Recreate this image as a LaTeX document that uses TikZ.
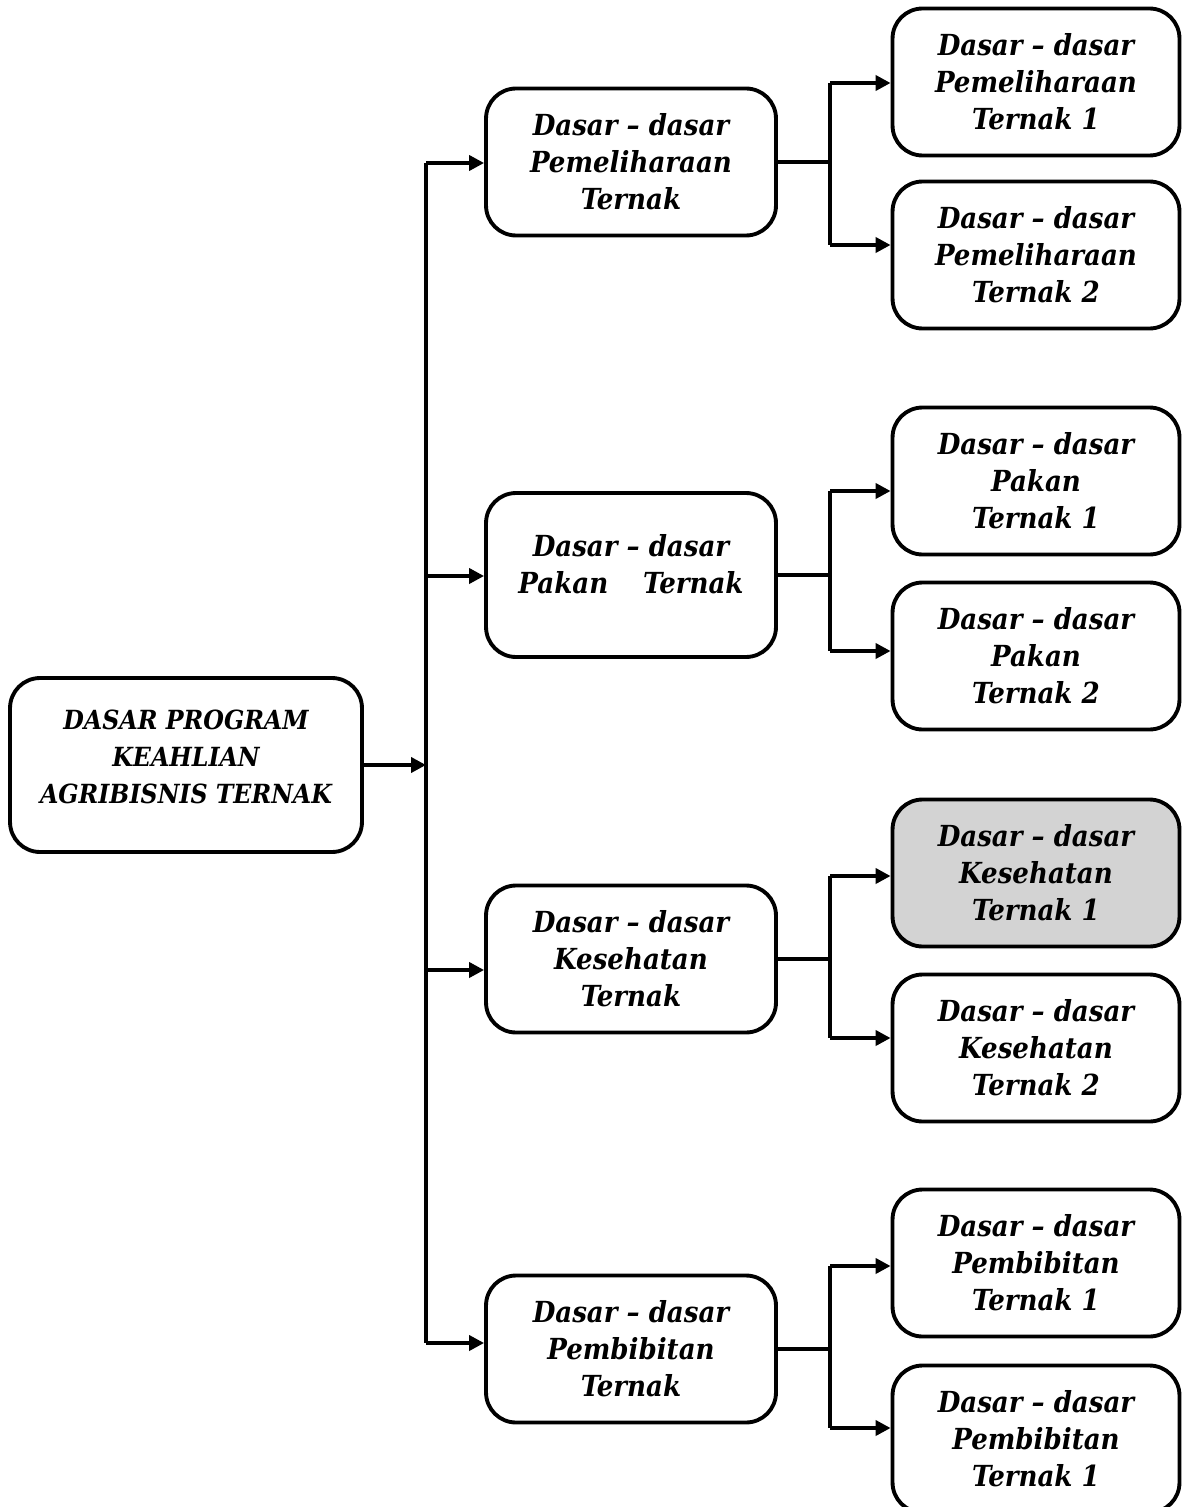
\documentclass[tikz,border=0pt]{standalone}
\usepackage{fontspec}
\newfontfamily\boxfont[Ligatures=TeX]{DejaVu Serif Condensed}
\usetikzlibrary{arrows.meta}
\definecolor{boxgray}{RGB}{211,211,211}

\begin{document}
\begin{tikzpicture}[x=0.02cm,y=-0.02cm,line width=2.1pt,
font=\boxfont\bfseries\itshape\fontsize{16.5}{21}\selectfont,
rbox/.style={draw,rectangle,rounded corners=0.6cm,align=center,inner sep=2pt,line width=2.2pt},
midbox/.style={rbox,minimum width=5.8cm,minimum height=2.94cm},
leafbox/.style={rbox,minimum width=5.74cm,minimum height=2.94cm},
arr/.style={-{Triangle[length=0.3cm,width=0.3cm]}}]
\useasboundingbox (0,0) rectangle (1183,1507);
% root
\draw (186,765) node[rbox,minimum width=7.04cm,minimum height=3.48cm,font=\boxfont\bfseries\itshape\fontsize{15}{21}\selectfont] (root) {DASAR PROGRAM\\KEAHLIAN\\AGRIBISNIS TERNAK\\[-0.4cm]\mbox{}};
% second level
\draw (631,162) node[midbox] (pem) {Dasar -- dasar\\Pemeliharaan\\Ternak};
\draw (631,575) node[midbox,minimum height=3.28cm] (pak) {Dasar -- dasar\\Pakan\hspace{0.7cm}Ternak\\[-0.3cm]\mbox{}};
\draw (631,959) node[midbox] (kes) {Dasar -- dasar\\Kesehatan\\Ternak};
\draw (631,1349) node[midbox] (bib) {Dasar -- dasar\\Pembibitan\\Ternak};
% third level
\draw (1036,82) node[leafbox] (pemA) {Dasar -- dasar\\Pemeliharaan\\Ternak 1};
\draw (1036,255) node[leafbox] (pemB) {Dasar -- dasar\\Pemeliharaan\\Ternak 2};
\draw (1036,481) node[leafbox] (pakA) {Dasar -- dasar\\Pakan\\Ternak 1};
\draw (1036,656) node[leafbox] (pakB) {Dasar -- dasar\\Pakan\\Ternak 2};
\draw (1036,873) node[leafbox,fill=boxgray] (kesA) {Dasar -- dasar\\Kesehatan\\Ternak 1};
\draw (1036,1048) node[leafbox] (kesB) {Dasar -- dasar\\Kesehatan\\Ternak 2};
\draw (1036,1263) node[leafbox] (bibA) {Dasar -- dasar\\Pembibitan\\Ternak 1};
\draw (1036,1439) node[leafbox] (bibB) {Dasar -- dasar\\Pembibitan\\Ternak 1};
% bus from root
\coordinate (busA) at (426,163);
\coordinate (busB) at (426,576);
\coordinate (busC) at (426,970);
\coordinate (busD) at (426,1343);
\draw[arr] (root.east) -- (root.east -| busA);
\draw (busA) -- (busD);
\draw[arr] (busA) -- (busA -| pem.west);
\draw[arr] (busB) -- (busB -| pak.west);
\draw[arr] (busC) -- (busC -| kes.west);
\draw[arr] (busD) -- (busD -| bib.west);
% branches to leaves
\coordinate (pemT) at (830,83);  \coordinate (pemU) at (830,245);
\coordinate (pakT) at (830,491); \coordinate (pakU) at (830,651);
\coordinate (kesT) at (830,876); \coordinate (kesU) at (830,1038);
\coordinate (bibT) at (830,1266); \coordinate (bibU) at (830,1428);
\draw (pem.east) -- (pem.east -| pemT);
\draw (pak.east) -- (pak.east -| pakT);
\draw (kes.east) -- (kes.east -| kesT);
\draw (bib.east) -- (bib.east -| bibT);
\draw (pemT) -- (pemU);
\draw (pakT) -- (pakU);
\draw (kesT) -- (kesU);
\draw (bibT) -- (bibU);
\draw[arr] (pemT) -- (pemT -| pemA.west);
\draw[arr] (pemU) -- (pemU -| pemB.west);
\draw[arr] (pakT) -- (pakT -| pakA.west);
\draw[arr] (pakU) -- (pakU -| pakB.west);
\draw[arr] (kesT) -- (kesT -| kesA.west);
\draw[arr] (kesU) -- (kesU -| kesB.west);
\draw[arr] (bibT) -- (bibT -| bibA.west);
\draw[arr] (bibU) -- (bibU -| bibB.west);
\end{tikzpicture}
\end{document}
